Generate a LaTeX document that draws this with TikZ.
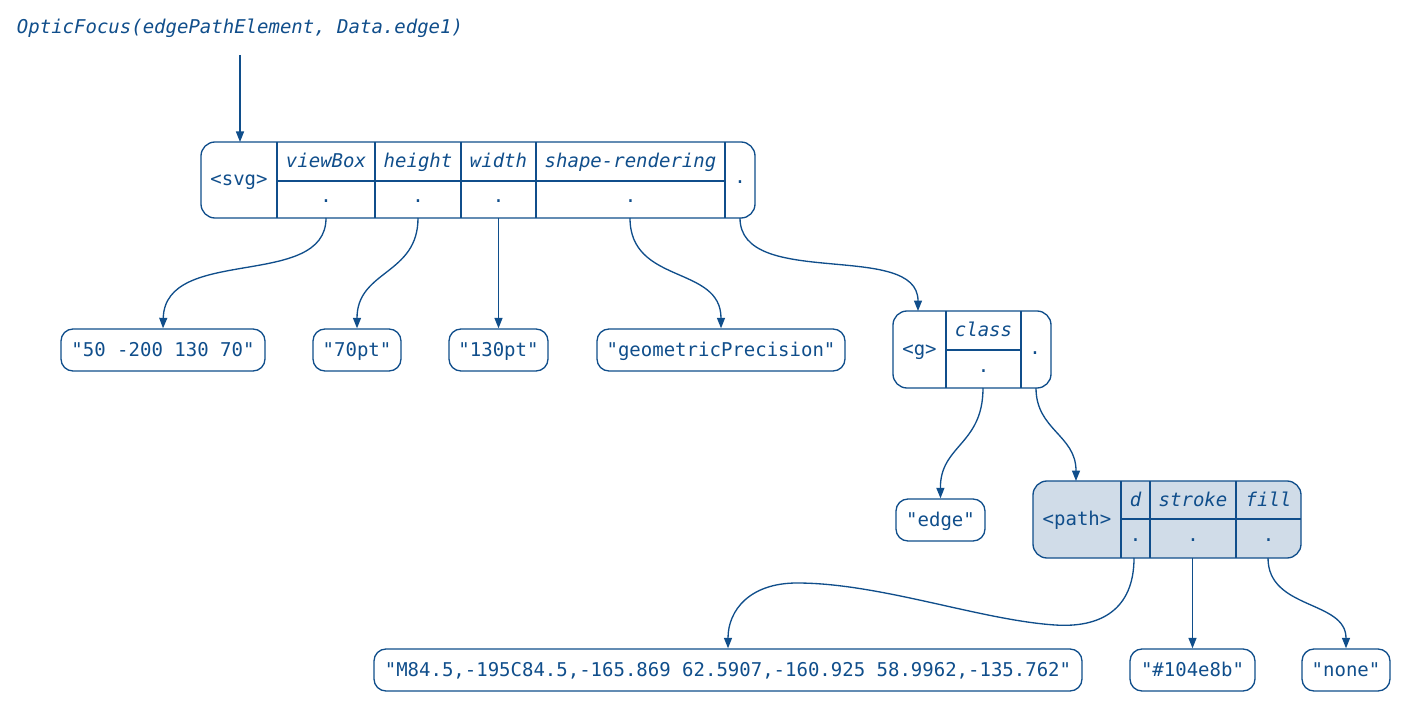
\documentclass[tikz,border=0pt]{standalone}
\usepackage{fontspec}
\setmonofont{DejaVu Sans Mono}
\usetikzlibrary{arrows.meta}
\definecolor{gv}{HTML}{104E8B}
\definecolor{gvfill}{HTML}{D0DCE8}
\begin{document}
\begin{tikzpicture}[x=1pt,y=-1pt,
  every node/.style={font=\ttfamily\fontsize{19}{22}\selectfont, text=gv},
  lbl/.style={inner sep=0pt, text height=15pt, text depth=3pt},
  itl/.style={lbl, font=\ttfamily\itshape\fontsize{19}{22}\selectfont},
  rec/.style={draw=gv, line width=1.33pt, rounded corners=14pt, inner sep=0pt},
  leaf/.style={draw=gv, line width=1.33pt, rounded corners=12pt, inner sep=0pt, minimum height=42pt, text height=15pt, text depth=3pt},
  div/.style={draw=gv, line width=1.33pt},
  conn/.style={draw=gv, line width=1.33pt, -{Triangle[length=10.5pt,width=8pt]}}
]
\useasboundingbox (0,0) rectangle (1407,703);

% title
\node[itl] (title) at (240,28) {OpticFocus(edgePathElement, Data.edge1)};
\coordinate (t0) at (240,55);

% svg record
\node[rec, minimum width=554pt, minimum height=76pt] (svg) at (478,180) {};
\draw[div] (277,142) -- (277,218) (375,142) -- (375,218) (461,142) -- (461,218)
  (536,142) -- (536,218) (725,142) -- (725,218) (277,181) -- (725,181);
\node[lbl] (svgname) at (239,180) {<svg>};
\node[itl] (fvb) at (326,161.5) {viewBox};
\node[itl] (fh) at (418,161.5) {height};
\node[itl] (fw) at (498.5,161.5) {width};
\node[itl] (fsr) at (630.5,161.5) {shape-rendering};
\node[lbl] (dvb) at (326,197) {.};
\node[lbl] (dh) at (418,197) {.};
\node[lbl] (dw) at (498.5,197) {.};
\node[lbl] (dsr) at (630.5,197) {.};
\node[lbl] (dch) at (740,178) {.};
\coordinate (svgin) at (240,142);
\coordinate (p1) at (326,218);
\coordinate (p2) at (418,218);
\coordinate (p3) at (498.5,218);
\coordinate (p4) at (630,218);
\coordinate (p5) at (740,218);

% leaves of svg
\node[leaf, minimum width=204pt] (l1) at (163,350) {"50 -200 130 70"};
\node[leaf, minimum width=88pt] (l2) at (357,350) {"70pt"};
\node[leaf, minimum width=99pt] (l3) at (498.5,350) {"130pt"};
\node[leaf, minimum width=248pt] (l4) at (721,350) {"geometricPrecision"};

% g record
\node[rec, minimum width=158pt, minimum height=77pt] (g) at (972,349.5) {};
\draw[div] (946,311) -- (946,388) (1021,311) -- (1021,388) (946,350) -- (1021,350);
\node[lbl] (gname) at (919.5,349.5) {<g>};
\node[itl] (fcl) at (983.5,330.5) {class};
\node[lbl] (dcl) at (983.5,366) {.};
\node[lbl] (dgch) at (1035,348) {.};
\coordinate (gin) at (918,311);
\coordinate (gc) at (983,388);
\coordinate (gr) at (1036,388);

\node[leaf, minimum width=89pt] (enode) at (940.5,520) {"edge"};

% path record
\node[rec, fill=gvfill, minimum width=268pt, minimum height=77pt] (path) at (1167,519.5) {};
\draw[div] (1121,481) -- (1121,558) (1150,481) -- (1150,558) (1236,481) -- (1236,558) (1121,519) -- (1301,519);
\node[lbl] (pname) at (1077,519.5) {<path>};
\node[itl] (fd) at (1135.5,500) {d};
\node[itl] (fst) at (1193,500) {stroke};
\node[itl] (ffl) at (1268.5,500) {fill};
\node[lbl] (dd) at (1135.5,535) {.};
\node[lbl] (dst) at (1193,535) {.};
\node[lbl] (dfl) at (1268.5,535) {.};
\coordinate (pin) at (1076,481);
\coordinate (pd) at (1134,558);
\coordinate (ps) at (1192.5,558);
\coordinate (pf) at (1268,558);

% bottom leaves
\node[leaf, minimum width=708pt] (long) at (728,670) {"M84.5,-195C84.5,-165.869 62.5907,-160.925 58.9962,-135.762"};
\node[leaf, minimum width=125pt] (hex) at (1192.5,670) {"\#104e8b"};
\node[leaf, minimum width=88pt] (none) at (1346,670) {"none"};

% connectors
\draw[conn] (t0) -- (svgin);
\draw[conn] (p1) .. controls (326,290) and (165,245) .. (l1.north);
\draw[conn] (p2) .. controls (418,275) and (357,270) .. (l2.north);
\draw[conn] (p3) -- (l3.north);
\draw[conn] (p4) .. controls (630,285) and (721,265) .. (l4.north);
\draw[conn] (p5) .. controls (740,290) and (918,240) .. (gin);
\draw[conn] (gc) .. controls (983,445) and (940,445) .. (enode.north);
\draw[conn] (gr) .. controls (1036,430) and (1076,435) .. (pin);
\draw[conn] (pd) .. controls (1134,610) and (1100,628) .. (1055,625)
  .. controls (980,620) and (880,583) .. (797,583)
  .. controls (750,583) and (728,610) .. (long.north);
\draw[conn] (ps) -- (hex.north);
\draw[conn] (pf) .. controls (1268,610) and (1346,600) .. (none.north);
\end{tikzpicture}
\end{document}
